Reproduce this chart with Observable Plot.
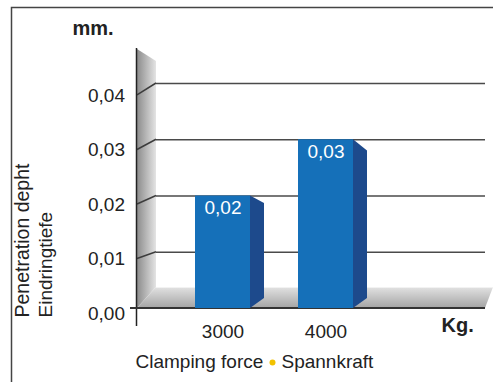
<!DOCTYPE html>
<html><head><meta charset="utf-8">
<script src="https://cdn.jsdelivr.net/npm/d3@7"></script>
<script src="https://cdn.jsdelivr.net/npm/@observablehq/plot@0.6"></script>
<style>body{margin:0;background:#fff} svg{display:block}</style>
</head><body><div id="chart"></div>
<script>
// ---- data ----
const categories = ["3000", "4000"];
const values = [0.02, 0.03];
const barLabels = ["0,02", "0,03"];
const yTicks = [0, 0.01, 0.02, 0.03, 0.04];
const yTickLabels = ["0,00", "0,01", "0,02", "0,03", "0,04"];
const yUnit = "mm.";
const xUnit = "Kg.";
const yTitle = ["Penetration depht", "Eindringtiefe"];
const caption = ["Clamping force", "Spannkraft"];

const bars = categories.map((c, i) => ({force: c, value: values[i], label: barLabels[i]}));
const gridTicks = yTicks.filter(v => v > 0);

// ---- style / layout ----
const FONT = "'Liberation Sans', Arial, Helvetica, sans-serif";
const INK = "#222";
const AXIS_X = 137, WALL = 19, FLOOR = 21, RIGHT = 8;
const FRONT_K = 0.969, FRONT_OFF = 5;
const BLUE = "#1570b9", BLUE_SIDE = "#1d4a8c";
const W = 493, H = 382;

function backdrop(index, {y}, values, {width}) {
  const g = d3.create("svg:g");
  const defs = g.append("defs");
  const wg = defs.append("linearGradient").attr("id", "wallGrad").attr("x1", 0).attr("x2", 1).attr("y1", 0).attr("y2", 0);
  wg.append("stop").attr("offset", 0).attr("stop-color", "#8c8c8c");
  wg.append("stop").attr("offset", 1).attr("stop-color", "#e4e4e4");
  const fg = defs.append("linearGradient").attr("id", "floorGrad").attr("x1", 0).attr("x2", 0).attr("y1", 0).attr("y2", 1);
  fg.append("stop").attr("offset", 0).attr("stop-color", "#e2e2e2");
  fg.append("stop").attr("offset", 1).attr("stop-color", "#a4a4a4");
  const y0 = y(0), yTop = y(d3.max(yTicks));
  const xa = AXIS_X, xb = AXIS_X + WALL;
  // outer border
  g.append("path").attr("d", `M11.5,${H}V7.5H${width}`).attr("fill", "none").attr("stroke", "#444").attr("stroke-width", 1.5);
  // left wall
  g.append("path").attr("d", d3.line()([[xa, yTop - 34], [xb, yTop - 22], [xb, y0 - FLOOR], [xa, y0]]) + "Z").attr("fill", "url(#wallGrad)");
  // floor
  g.append("path").attr("d", d3.line()([[xa, y0], [xb, y0 - FLOOR], [width, y0 - FLOOR], [width - RIGHT, y0]]) + "Z").attr("fill", "url(#floorGrad)");
  g.append("line").attr("x1", xb).attr("x2", width).attr("y1", y0 - FLOOR + 0.5).attr("y2", y0 - FLOOR + 0.5).attr("stroke", "#f2f2f2");
  return g.node();
}

function frontAxis(index, {y}, values, {width}) {
  const g = d3.create("svg:g");
  const y0 = y(0), yTop = y(d3.max(yTicks));
  const fy = v => y0 + FRONT_OFF + (y(v) - y0) * FRONT_K;
  const xa = AXIS_X, xb = AXIS_X + WALL;
  for (const v of gridTicks) {
    g.append("line").attr("x1", xa).attr("y1", fy(v)).attr("x2", xb).attr("y2", y(v))
      .attr("stroke", "#3c3c3c").attr("stroke-width", 1.5);
  }
  g.append("line").attr("x1", xa - 0.5).attr("x2", xa - 0.5).attr("y1", yTop - 35).attr("y2", y0 + 18).attr("stroke", "#222").attr("stroke-width", 1.5);
  g.append("line").attr("x1", xa - 7).attr("x2", width - RIGHT).attr("y1", y0).attr("y2", y0).attr("stroke", "#333").attr("stroke-width", 1.8);
  yTicks.forEach((v, i) => {
    g.append("text").attr("x", xa - 12).attr("y", fy(v)).attr("dy", "0.35em")
      .attr("text-anchor", "end").attr("font-size", 19).attr("fill", INK).text(yTickLabels[i]);
  });
  return g.node();
}

function barSides(index, {x, y}) {
  const g = d3.create("svg:g");
  const bw = x.bandwidth();
  const y0 = y(0);
  bars.forEach(d => {
    const xr = x(d.force) + bw, yt = y(d.value), h = y0 - yt;
    g.append("path").attr("d", d3.line()([[xr, yt], [xr + 14, yt + 0.066 * h], [xr + 14, y0 - 10], [xr, y0]]) + "Z")
      .attr("fill", BLUE_SIDE);
  });
  return g.node();
}

const label = (txt, dx, dy, opts = {}) =>
  Plot.text([txt], {frameAnchor: "top-left", dx, dy, text: d => d, textAnchor: "start", lineAnchor: "middle", fontSize: 19, fill: INK, ...opts});

const chart = Plot.plot({
  width: W, height: H,
  marginTop: 0, marginRight: 0, marginBottom: 0, marginLeft: 0,
  style: {fontFamily: FONT, background: "#fff", color: INK},
  x: {type: "band", domain: categories, range: [142.75, 404.75], paddingInner: 0.4686, paddingOuter: 0.5, axis: null},
  y: {domain: [0, 0.04], range: [308, 83], axis: null},
  marks: [
    backdrop,
    Plot.ruleY(gridTicks, {y: d => d, insetLeft: AXIS_X + WALL, insetRight: RIGHT, stroke: "#4a4a4a", strokeWidth: 1.6}),
    frontAxis,
    Plot.barY(bars, {x: "force", y: "value", fill: BLUE, inset: 0}),
    barSides,
    Plot.text(bars, {x: "force", y: "value", text: "label", dy: 12, fill: "white", fontSize: 19}),
    Plot.text(bars, {x: "force", y: () => 0, text: "force", dy: 23, fontSize: 19, fill: INK}),
    label(yUnit, 72, 28, {fontWeight: "bold", fontSize: 20}),
    label(xUnit, 441, 325, {fontWeight: "bold", fontSize: 20}),
    label(yTitle[0], 22, 317, {rotate: -90, fontSize: 19.5}),
    label(yTitle[1], 45, 317, {rotate: -90}),
    label(caption[0], 135, 361),
    Plot.dot([caption[0]], {frameAnchor: "top-left", dx: 272, dy: 362, r: 3, fill: "#f2c200", stroke: "none"}),
    label(caption[1], 281, 361)
  ]
});
document.getElementById("chart").append(chart);
</script>
</body></html>
